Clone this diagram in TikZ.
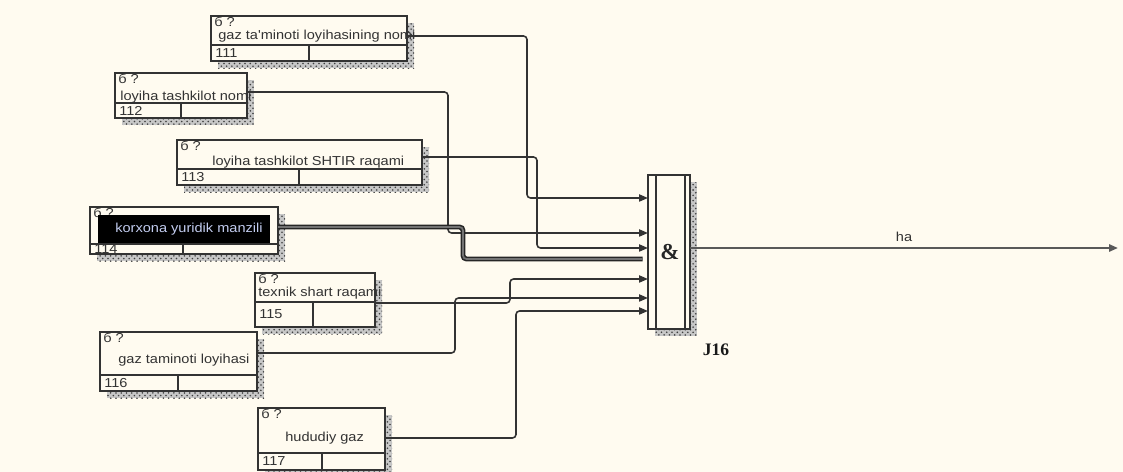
\documentclass[tikz,border=0pt]{standalone}
\usepackage{fontspec}
\newfontfamily\boxfont[FakeStretch=1.12]{Liberation Sans}
\newfontfamily\jfont{Liberation Serif}
\usetikzlibrary{arrows.meta,calc,patterns,shadows}
\definecolor{paper}{RGB}{255,251,240}
\definecolor{selink}{RGB}{195,205,240}

\begin{document}
\begin{tikzpicture}[
  x=0.02cm, y=-0.02cm,
  >={Triangle[length=5pt,width=4pt]},
  every node/.style={font=\boxfont\fontsize{7.4}{8}\selectfont, text=black!80, inner sep=0pt},
  hatch/.style={drop shadow={shadow xshift=4pt, shadow yshift=-4pt, opacity=1, fill=black!22},
                drop shadow={shadow xshift=4pt, shadow yshift=-4pt, opacity=1, fill=none, pattern=crosshatch dots, pattern color=black!75}},
  entity/.style={draw=black!80, line width=.9pt, fill=paper, anchor=north west, outer sep=0pt, hatch},
  divider/.style={draw=black!80, line width=.9pt},
  link/.style={->, draw=black!80, line width=.9pt, rounded corners=2pt},
  boldlink/.style={draw=black!85, double=black!55, double distance=1pt, line width=.9pt, rounded corners=2pt, shorten >=3pt},
  outlink/.style={->, draw=black!65, line width=1.2pt}
]
  \path[use as bounding box, fill=paper] (0,0) rectangle (1123,472);

  % entity boxes: name/left/top/right/bottom/divider y/divider x
  \foreach \n/\xa/\ya/\xb/\yb/\yd/\xd in {111/211/16/407/61/45/309, 112/115/73/247/118/103/181,
      113/177/140/422/185/169/299, 114/90/207/278/254/244/183, 115/255/273/375/327/302/313,
      116/100/332/257/391/375/178, 117/258/408/385/470/453/322} {
    \node[entity, minimum width={(\xb-\xa)*0.02cm}, minimum height={(\yb-\ya)*0.02cm}] (n\n) at (\xa,\ya) {};
    \draw[divider] (\xa,\yd) -- (\xb,\yd) (\xd,\yd) -- (\xd,\yb);
    \node[anchor=west] (q\n) at ({\xa+3},{\ya+6}) {б ?};
    \node[anchor=west] (k\n) at ({\xa+4},{(\yd+\yb)/2}) {\n};
  }
  \fill[black] (98,215) rectangle (270,243);

  \node[anchor=west] (t111) at (218,36) {gaz ta'minoti loyihasining nomi};
  \node[anchor=west] (t112) at (120,97) {loyiha tashkilot nomi};
  \node[anchor=west] (t113) at (212,162) {loyiha tashkilot SHTIR raqami};
  \node[anchor=west, text=selink] (t114) at (115,229) {korxona yuridik manzili};
  \node[anchor=west] (t115) at (258,293) {texnik shart raqami};
  \node[anchor=west] (t116) at (118,360) {gaz taminoti loyihasi};
  \node[anchor=west] (t117) at (285,438) {hududiy gaz};

  % junction
  \node[draw=black!80, line width=.9pt, fill=paper, anchor=north west, outer sep=0pt,
        minimum width=0.84cm, minimum height=3.08cm, hatch] (J) at (648,175) {};
  \draw[divider] ($(J.north west)+(8,0)$) -- ($(J.south west)+(8,0)$)
                 ($(J.north east)+(-5,0)$) -- ($(J.south east)+(-5,0)$);
  \node[font=\jfont\bfseries\fontsize{13}{14}\selectfont, text=black!85] (amp) at (670,252) {\&};
  \node[font=\jfont\bfseries\fontsize{10}{12}\selectfont, text=black!90] (jname) at (716,350) {J16};

  \foreach \k/\y in {a/198,b/233,c/248,d/259,e/279,f/298,g/311}
    \coordinate (j\k) at (648,\y);
  \coordinate (out) at (1118,248);

  \draw[link] ($(n111.north east)+(0,20)$) -| (527,198) -- (ja);
  \draw[link] ($(n112.north east)+(0,19)$) -| (448,233) -- (jb);
  \draw[link] ($(n113.north east)+(0,17)$) -| (537,248) -- (jc);
  \draw[boldlink] ($(n114.north east)+(0,20)$) -| (463,259) -- (jd);
  \draw[link] ($(n115.north east)+(0,30)$) -| (510,279) -- (je);
  \draw[link] ($(n116.north east)+(0,21)$) -| (455,298) -- (jf);
  \draw[link] ($(n117.north east)+(0,30)$) -| (516,311) -- (jg);

  \draw[outlink] (J.east |- out) -- node[above=3pt] (ha) {ha} (out);
\end{tikzpicture}
\end{document}
